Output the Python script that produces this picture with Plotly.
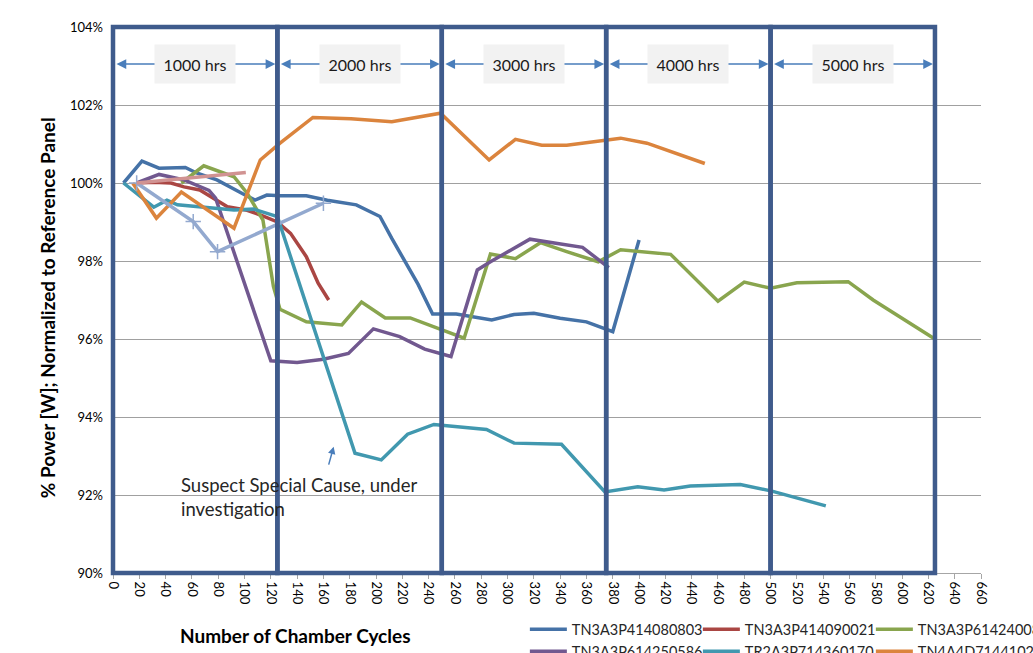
import plotly.graph_objects as go

# ---------------- data ----------------
blue_x = [8, 22, 35, 55, 64, 79, 99, 108, 117, 127, 147, 163, 185, 203, 212, 232, 243, 261, 288, 305, 320, 340, 360, 380, 400]
blue_y = [100, 100.56, 100.38, 100.40, 100.25, 100.08, 99.72, 99.56, 99.69, 99.67, 99.67, 99.56, 99.44, 99.14, 98.58, 97.40, 96.64, 96.64, 96.49, 96.63, 96.66, 96.53, 96.44, 96.19, 98.54]

red_x = [18, 31, 44, 54, 66, 79, 87, 102, 112, 125, 135, 147, 156, 164]
red_y = [100, 100.02, 100.0, 99.9, 99.82, 99.56, 99.39, 99.3, 99.18, 99.0, 98.71, 98.11, 97.43, 97.0]

green_x = [52, 69, 92, 102, 114, 122, 127, 147, 174, 189, 207, 226, 267, 287, 306, 325, 345, 369, 386, 424, 460, 480, 500, 520, 559, 578, 624]
green_y = [100, 100.44, 100.16, 99.74, 99.05, 97.34, 96.76, 96.44, 96.36, 96.95, 96.54, 96.54, 96.02, 98.18, 98.06, 98.47, 98.24, 97.98, 98.29, 98.17, 96.97, 97.46, 97.3, 97.44, 97.47, 97.0, 96.02]

purple_x = [18, 35, 54, 73, 78, 120, 140, 160, 179, 198, 218, 237, 257, 277, 287, 305, 317, 338, 357, 377]
purple_y = [100, 100.22, 100.08, 99.81, 99.61, 95.44, 95.4, 95.48, 95.63, 96.26, 96.06, 95.74, 95.55, 97.77, 97.98, 98.32, 98.56, 98.45, 98.35, 97.83]

teal_x = [8, 31, 41, 49, 92, 107, 125, 184, 204, 224, 244, 264, 284, 305, 331, 341, 374, 399, 419, 439, 477, 501, 542]
teal_y = [100, 99.38, 99.56, 99.44, 99.31, 99.33, 99.14, 93.07, 92.9, 93.56, 93.81, 93.75, 93.68, 93.33, 93.3, 93.3, 92.08, 92.21, 92.13, 92.23, 92.27, 92.1, 91.72]

orange_x = [15, 33, 52, 92, 112, 127, 152, 181, 212, 249, 286, 306, 326, 345, 386, 406, 450]
orange_y = [100, 99.1, 99.77, 98.84, 100.59, 101.02, 101.68, 101.65, 101.57, 101.79, 100.59, 101.12, 100.97, 100.97, 101.15, 101.02, 100.5]

lav_x = [18, 61, 79.5, 160]
lav_y = [100, 99.01, 98.24, 99.48]

pink_x = [18, 101]
pink_y = [100, 100.27]

series_names = ["TN3A3P414080803", "TN3A3P414090021", "TN3A3P614240082",
                "TN3A3P614250586", "TR2A3P714360170", "TN4A4D71441023"]

period_edges = [0, 125, 250, 375, 500, 625]
period_labels = ["1000 hrs", "2000 hrs", "3000 hrs", "4000 hrs", "5000 hrs"]
arrow_level = 103.05

x_range = [0, 660]
y_range = [90, 104]
y_ticks = [90, 92, 94, 96, 98, 100, 102, 104]
y_ticktext = [f"{v}%" for v in y_ticks]

callout_text = "Suspect Special Cause, under<br>investigation"
callout_pos = (50, 92.6)
callout_arrow = (163.7, 92.74, 167.8, 93.24)

# ---------------- styles ----------------
FONT = "Lato"
colors = ["#4572A7", "#AA4643", "#89A54E", "#71588F", "#4198AF", "#DB843D"]
LAV = "#93A9CF"
PINK = "#D19392"
FRAME = "#3F5B8C"
ARROW = "#4A7EBB"
LW = 3.5

fig = go.Figure()

data_sets = [(blue_x, blue_y), (red_x, red_y), (green_x, green_y),
             (purple_x, purple_y), (teal_x, teal_y), (orange_x, orange_y)]
for i, (xs, ys) in enumerate(data_sets):
    fig.add_trace(go.Scatter(
        x=xs, y=ys, mode="lines", name=series_names[i],
        line=dict(color=colors[i], width=LW),
        legend="legend" if i < 3 else "legend2",
    ))

fig.add_trace(go.Scatter(
    x=lav_x, y=lav_y, mode="lines+markers", showlegend=False,
    line=dict(color=LAV, width=LW),
    marker=dict(symbol="cross-thin", size=11, color=LAV, line=dict(color=LAV, width=1.5)),
))
fig.add_trace(go.Scatter(
    x=pink_x, y=pink_y, mode="lines", showlegend=False,
    line=dict(color=PINK, width=LW),
))

# thick period frames (domain refs so they are not clipped)
span = x_range[1] - x_range[0]
for a, b in zip(period_edges[:-1], period_edges[1:]):
    fig.add_shape(type="rect", xref="x domain", yref="y domain",
                  x0=(a - x_range[0]) / span, x1=(b - x_range[0]) / span, y0=0, y1=1,
                  line=dict(color=FRAME, width=4.5), layer="above")

# double arrows + labels
for a, b in zip(period_edges[:-1], period_edges[1:]):
    fig.add_annotation(x=b, y=arrow_level, ax=a, ay=arrow_level,
                       xref="x", yref="y", axref="x", ayref="y",
                       text="", showarrow=True, arrowside="end+start",
                       arrowhead=2, startarrowhead=2, arrowsize=1.3, startarrowsize=1.3,
                       arrowwidth=1.5, arrowcolor=ARROW, standoff=2, startstandoff=2)
for a, b, lab in zip(period_edges[:-1], period_edges[1:], period_labels):
    fig.add_annotation(x=(a + b) / 2, y=arrow_level, xref="x", yref="y",
                       text=lab, showarrow=False, bgcolor="#F2F2F2",
                       width=78, height=36, font=dict(family=FONT, size=16, color="#1a1a1a"))

# callout
fig.add_annotation(x=callout_pos[0], y=callout_pos[1], xref="x", yref="y",
                   text=callout_text, showarrow=False, xanchor="left", yanchor="top",
                   align="left", font=dict(family=FONT, size=18.5, color="#262626"))
fig.add_annotation(x=callout_arrow[2], y=callout_arrow[3], ax=callout_arrow[0], ay=callout_arrow[1],
                   xref="x", yref="y", axref="x", ayref="y", text="", showarrow=True,
                   arrowhead=2, arrowsize=1, arrowwidth=1.5, arrowcolor=ARROW)

# axis titles
fig.add_annotation(x=-0.076, y=0.485, xref="paper", yref="paper", textangle=-90,
                   xanchor="center", yanchor="middle",
                   text="<b>% Power [W]; Normalized to Reference Panel</b>", showarrow=False,
                   font=dict(family=FONT, size=19, color="#000"))
fig.add_annotation(x=0.21, y=-0.1136, xref="paper", yref="paper",
                   xanchor="center", yanchor="middle",
                   text="<b>Number of Chamber Cycles</b>", showarrow=False,
                   font=dict(family=FONT, size=19, color="#000"))

legend_common = dict(orientation="h", x=0.4745, xanchor="left", yanchor="top",
                     entrywidth=121, entrywidthmode="pixels", itemwidth=37,
                     font=dict(family=FONT, size=14.5, color="#262626"),
                     bgcolor="rgba(0,0,0,0)")

fig.update_layout(
    width=1033, height=653,
    margin=dict(l=113, r=52, t=27, b=80, autoexpand=False),
    paper_bgcolor="white", plot_bgcolor="white",
    font=dict(family=FONT, size=13, color="#000"),
    xaxis=dict(range=x_range, dtick=20, tick0=0, tickangle=90, showgrid=False,
               showline=True, linecolor="#A6A6A6", linewidth=1,
               ticks="outside", ticklen=5, tickcolor="#A6A6A6",
               tickfont=dict(family=FONT, size=13), zeroline=False),
    yaxis=dict(range=y_range, tickvals=y_ticks, ticktext=y_ticktext, showgrid=True,
               gridcolor="#A0A0A0", gridwidth=1, zeroline=False, ticklabelstandoff=9,
               tickfont=dict(family=FONT, size=13)),
    legend=dict(y=-0.074, **legend_common),
    legend2=dict(y=-0.114, **legend_common),
)

fig.write_html("out.html", config={"displayModeBar": False},
               post_script="document.body.style.margin='0';document.body.style.overflow='hidden';")
